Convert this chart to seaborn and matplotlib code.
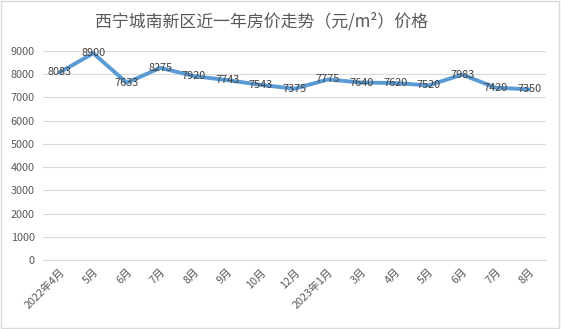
import matplotlib
matplotlib.use("Agg")
import matplotlib.pyplot as plt
import seaborn as sns
import pandas as pd
from matplotlib.patches import Rectangle

months = ["2022年4月", "5月", "6月", "7月", "8月", "9月", "10月", "12月",
          "2023年1月", "3月", "4月", "5月", "6月", "7月", "8月"]
prices = [8083, 8900, 7633, 8275, 7920, 7743, 7543, 7375,
          7775, 7640, 7620, 7520, 7983, 7420, 7350]
y_ticks = list(range(0, 10000, 1000))

sns.set_theme(style="white")
plt.rcParams["font.family"] = ["Noto Sans CJK SC", "DejaVu Sans"]

df = pd.DataFrame({"idx": range(len(months)), "price": prices})

fig = plt.figure(figsize=(5.61, 3.29), dpi=100)
ax = fig.add_axes([43 / 561, 1 - 260 / 329, (546 - 43) / 561, (260 - 51) / 329])

sns.lineplot(data=df, x="idx", y="price", ax=ax, color="#5B9BD5",
             linewidth=2.8, solid_capstyle="round", solid_joinstyle="round")

for i, v in zip(df["idx"], df["price"]):
    ax.text(i, v, str(v), ha="center", va="center", fontsize=7.8,
            color="#404040", zorder=5)

ax.set_xlim(-0.5, len(months) - 0.5)
ax.set_ylim(0, 9000)
ax.set_yticks(y_ticks)
ax.set_yticklabels([str(t) for t in y_ticks], fontsize=7.8, color="#595959")
ax.set_xticks(range(len(months)))
ax.set_xticklabels(months, rotation=45, ha="right", va="top",
                   rotation_mode="anchor", fontsize=7.8, color="#595959")
ax.tick_params(axis="both", length=0)
ax.tick_params(axis="y", pad=6)
ax.tick_params(axis="x", pad=5)
ax.grid(axis="y", color="#D9D9D9", linewidth=0.8)
ax.set_axisbelow(True)
for side in ["top", "left", "right"]:
    ax.spines[side].set_visible(False)
ax.spines["bottom"].set_color("#D9D9D9")
ax.spines["bottom"].set_linewidth(0.8)
ax.set_xlabel("")
ax.set_ylabel("")

fig.text(262 / 561, 1 - 21 / 329, "西宁城南新区近一年房价走势（元/m²）价格",
         ha="center", va="center", fontsize=12.2, color="#595959")

fig.patches.append(Rectangle((0.5 / 561, 1 - 327.5 / 329), 558 / 561, 327 / 329,
                             transform=fig.transFigure, fill=False,
                             edgecolor="#D9D9D9", linewidth=1))

fig.savefig("out.png", dpi=100)
